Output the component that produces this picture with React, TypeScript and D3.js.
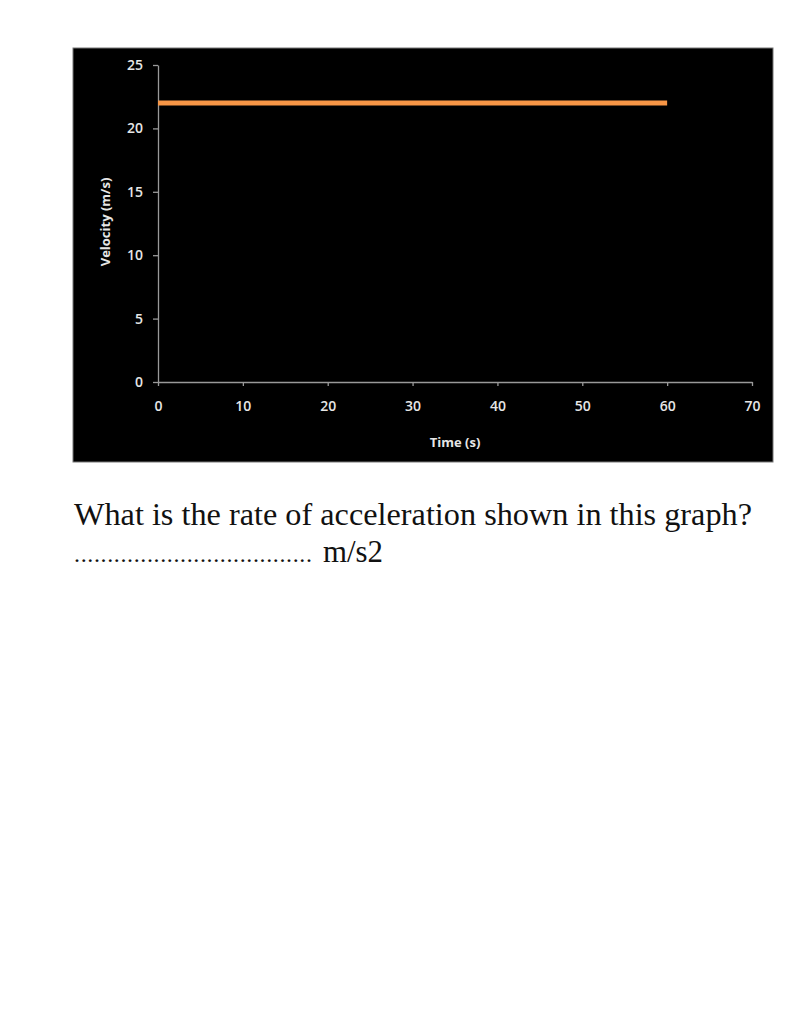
import React, { useRef, useEffect } from "react";
import * as d3 from "d3";

const time = [0, 60];
const velocity = [22, 22];
const xTicks = [0, 10, 20, 30, 40, 50, 60, 70];
const yTicks = [0, 5, 10, 15, 20, 25];
const xTitle = "Time (s)";
const yTitle = "Velocity (m/s)";
const question = "What is the rate of acceleration shown in this graph?";
const blank = ".".repeat(36);
const unit = "m/s2";

export default function App() {
  const ref = useRef<SVGSVGElement>(null);

  useEffect(() => {
    const svg = d3.select(ref.current);
    svg.selectAll("*").remove();

    const box = { x: 73, y: 48, w: 700, h: 414 };
    const x = d3.scaleLinear().domain([0, 70]).range([158, 752]);
    const y = d3.scaleLinear().domain([0, 25]).range([382, 65]);

    svg.append("rect")
      .attr("x", box.x).attr("y", box.y)
      .attr("width", box.w).attr("height", box.h)
      .attr("fill", "#000").attr("stroke", "#777").attr("stroke-width", 1);

    const font = "'Open Sans', sans-serif";

    const gx = svg.append("g")
      .attr("transform", `translate(0,${y(0)})`)
      .call(d3.axisBottom(x).tickValues(xTicks).tickSize(4).tickPadding(15).tickSizeOuter(0));
    const gy = svg.append("g")
      .attr("transform", `translate(${x(0)},0)`)
      .call(d3.axisLeft(y).tickValues(yTicks).tickSize(5).tickPadding(10).tickSizeOuter(0));

    [gx, gy].forEach(g => {
      g.select(".domain").attr("stroke", "#999").attr("stroke-width", 1.3);
      g.selectAll(".tick line").attr("stroke", "#999").attr("stroke-width", 1.3);
      g.selectAll(".tick text")
        .attr("fill", "#e6e6e6")
        .style("font-family", font)
        .style("font-weight", "600")
        .style("font-size", "14px");
    });

    const line = d3.line<number>()
      .x((_, i) => x(time[i]))
      .y(d => y(d));
    svg.append("path")
      .datum(velocity)
      .attr("d", line)
      .attr("fill", "none")
      .attr("stroke", "#F79646")
      .attr("stroke-width", 5);

    svg.append("text")
      .attr("x", 455).attr("y", 447)
      .attr("text-anchor", "middle")
      .attr("fill", "#e6e6e6")
      .style("font-family", font).style("font-weight", "bold").style("font-size", "13px")
      .text(xTitle);

    svg.append("text")
      .attr("transform", `translate(110,222) rotate(-90)`)
      .attr("text-anchor", "middle")
      .attr("fill", "#e6e6e6")
      .style("font-family", font).style("font-weight", "bold").style("font-size", "13px")
      .text(yTitle);

    const serif = "'Liberation Serif', 'Times New Roman', serif";

    svg.append("text")
      .attr("x", 74).attr("y", 525)
      .attr("fill", "#111")
      .attr("textLength", 678)
      .attr("lengthAdjust", "spacingAndGlyphs")
      .style("font-family", serif)
      .style("font-size", "31px")
      .text(question);

    svg.append("text")
      .attr("x", 74).attr("y", 562)
      .attr("fill", "#111")
      .attr("textLength", 238)
      .attr("lengthAdjust", "spacing")
      .style("font-family", serif)
      .style("font-size", "24px")
      .text(blank);

    svg.append("text")
      .attr("x", 323).attr("y", 562)
      .attr("fill", "#111")
      .attr("textLength", 60)
      .attr("lengthAdjust", "spacingAndGlyphs")
      .style("font-family", serif)
      .style("font-size", "31px")
      .text(unit);
  }, []);

  return (
    <svg ref={ref} width={809} height={1031}
      style={{ position: "absolute", left: 0, top: 0, background: "#fff" }} />
  );
}
